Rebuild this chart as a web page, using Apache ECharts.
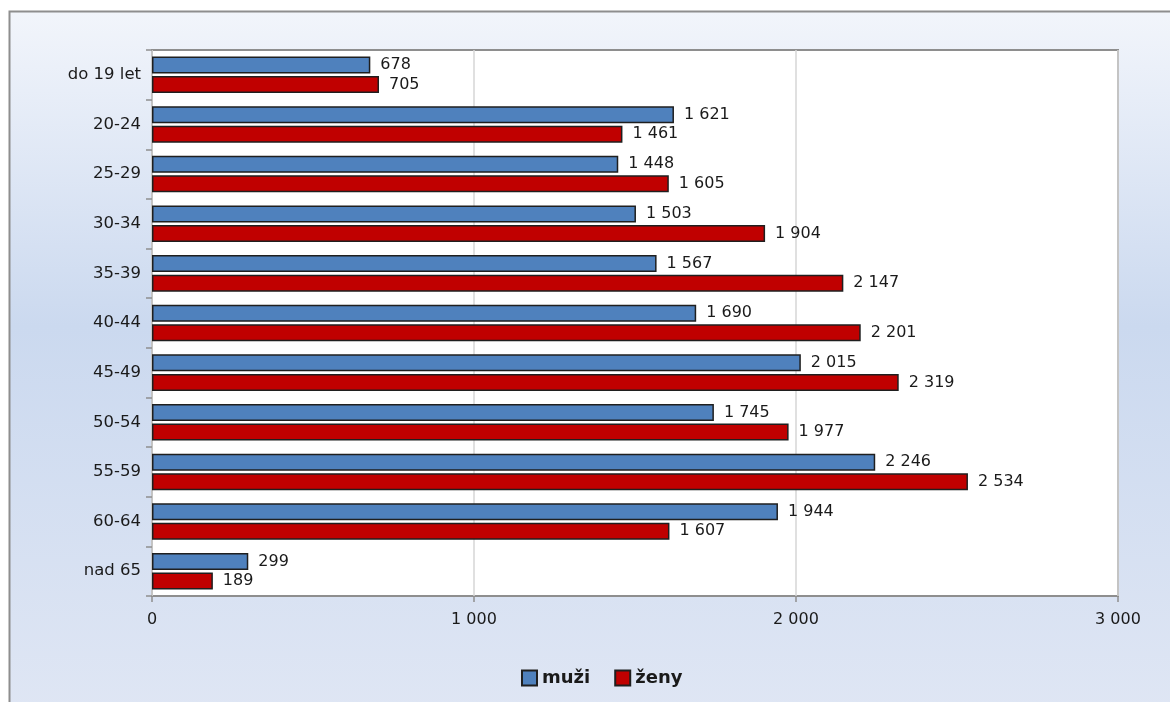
<!DOCTYPE html>
<html>
<head>
<meta charset="utf-8">
<script src="https://cdn.jsdelivr.net/npm/echarts@6/dist/echarts.min.js"></script>
<style>html,body{margin:0;padding:0;background:#fff;}#c{width:1170px;height:702px;}</style>
</head>
<body>
<div id="c"></div>
<script>
const categories = ['do 19 let','20-24','25-29','30-34','35-39','40-44','45-49','50-54','55-59','60-64','nad 65'];
const muzi = [678,1621,1448,1503,1567,1690,2015,1745,2246,1944,299];
const zeny = [705,1461,1605,1904,2147,2201,2319,1977,2534,1607,189];
const xTicks = [0,1000,2000,3000];
const seriesNames = ['muži','ženy'];

function fmt(v){ return String(v).replace(/\B(?=(\d{3})+(?!\d))/g,' '); }
const FONT = 'DejaVu Sans';
const chart = echarts.init(document.getElementById('c'));
chart.setOption({
  animation:false,
  backgroundColor:'#ffffff',
  graphic:[{
    type:'rect', z:-10, silent:true,
    shape:{x:9.5,y:11.5,width:1175,height:700},
    style:{
      fill:new echarts.graphic.LinearGradient(0,0,0,1,[
        {offset:0,color:'#f2f5fb'},
        {offset:0.45,color:'#cbd9ef'},
        {offset:1,color:'#dfe6f4'}
      ]),
      stroke:'#8e8e8e', lineWidth:2
    }
  }],
  grid:{left:152,right:52,top:50,bottom:106,show:true,backgroundColor:'#ffffff',borderColor:'#8e8e8e',borderWidth:2},
  legend:{
    left:516, top:664, itemWidth:15, itemHeight:15, itemGap:24,
    icon:'rect',
    textStyle:{fontFamily:FONT,fontSize:18,fontWeight:'bold',color:'#1a1a1a'},
    data:seriesNames
  },
  xAxis:{
    type:'value', min:xTicks[0], max:xTicks[xTicks.length-1], interval:1000,
    axisLine:{show:false},
    axisTick:{show:true,length:6,lineStyle:{color:'#8e8e8e',width:1.5}},
    axisLabel:{fontFamily:FONT,fontSize:16,color:'#1a1a1a',margin:16,formatter:fmt},
    splitLine:{show:true,lineStyle:{color:'#d6d6d6',width:1.5}}
  },
  yAxis:{
    type:'category', inverse:true, data:categories,
    axisLine:{show:false},
    axisTick:{show:true,length:6,lineStyle:{color:'#8e8e8e',width:1.5}},
    axisLabel:{fontFamily:FONT,fontSize:16.5,color:'#1a1a1a',margin:11}
  },
  series:[
    {name:seriesNames[0],type:'bar',data:muzi,barWidth:17,barGap:'15%',
     itemStyle:{color:'#4f81bd',borderColor:'#1f1f1f',borderWidth:1.5},
     label:{show:true,position:'right',distance:10,fontFamily:FONT,fontSize:16,color:'#1a1a1a',formatter:p=>fmt(p.value)}},
    {name:seriesNames[1],type:'bar',data:zeny,barWidth:17,barGap:'15%',
     itemStyle:{color:'#c00000',borderColor:'#1f1f1f',borderWidth:1.5},
     label:{show:true,position:'right',distance:10,fontFamily:FONT,fontSize:16,color:'#1a1a1a',formatter:p=>fmt(p.value)}}
  ]
});
</script>
</body>
</html>
